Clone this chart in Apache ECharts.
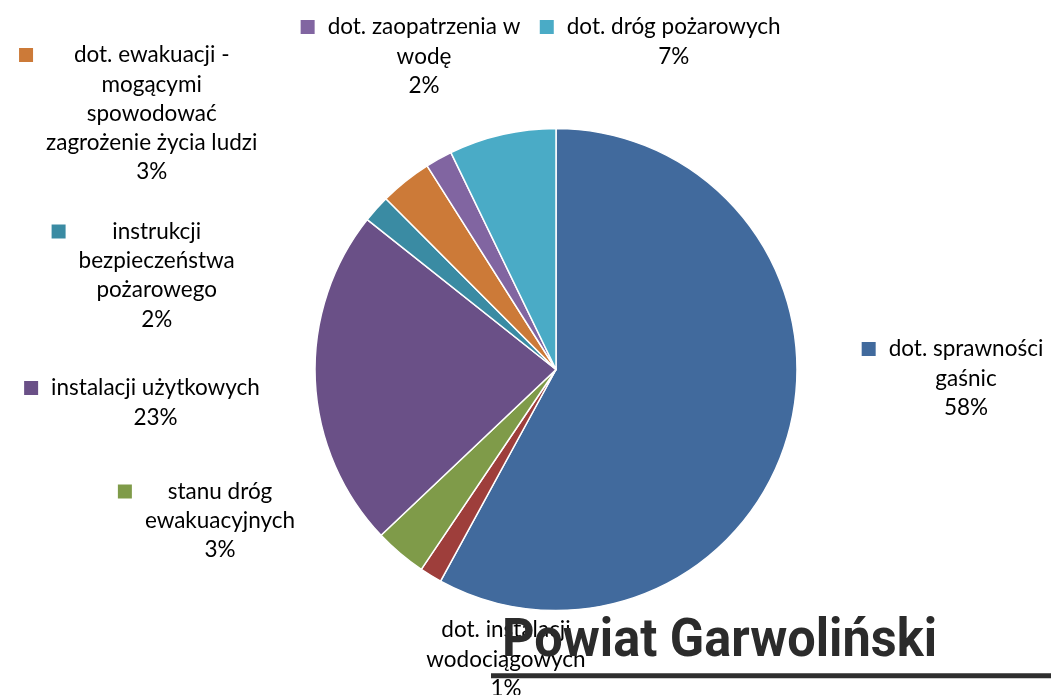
<!DOCTYPE html>
<html>
<head>
<meta charset="utf-8">
<script src="https://cdn.jsdelivr.net/npm/echarts@6/dist/echarts.min.js"></script>
<style>
  html, body { margin: 0; padding: 0; background: #fff; }
  #chart { width: 1051px; height: 695px; }
</style>
</head>
<body>
<div id="chart"></div>
<script>
// ---- data ----
const categories = [
  'dot. sprawności\ngaśnic',
  'dot. instalacji\nwodociągowych',
  'stanu dróg\newakuacyjnych',
  'instalacji użytkowych',
  'instrukcji\nbezpieczeństwa\npożarowego',
  'dot. ewakuacji -\nmogącymi\nspowodować\nzagrożenie życia ludzi',
  'dot. zaopatrzenia w\nwodę',
  'dot. dróg pożarowych'
];
const values = [57.95, 1.49, 3.49, 22.75, 1.85, 3.49, 1.8, 7.18];
const titleText = 'Powiat Garwoliński';

// ---- styles / layout ----
const colors = ['#416A9D', '#9E3E3B', '#7F9B49', '#6A5087', '#3A8BA3', '#CC7A38', '#8165A1', '#4AABC6'];
const FONT = 'Lato, "Noto Sans", sans-serif';
const FS = 22.5;
const LH = 29.3;
// text centre x, first line centre y, legend key shown
const labelPlace = [
  { x: 966, y: 349, key: true },
  { x: 506, y: 630, key: false },
  { x: 220, y: 491.5, key: true },
  { x: 155.5, y: 388, key: true },
  { x: 156.7, y: 231.5, key: true },
  { x: 151.7, y: 55, key: true },
  { x: 424, y: 27, key: true },
  { x: 673.7, y: 27, key: true }
];

const rich = {
  t: { fontFamily: FONT, fontSize: FS, color: '#000', lineHeight: LH, align: 'center' },
  gap: { width: 13, height: 14, align: 'left', lineHeight: LH },
  bl: { width: 27, height: 14, align: 'left', lineHeight: LH },
  br: { width: 27, height: 14, align: 'right', lineHeight: LH }
};
colors.forEach((c, i) => {
  rich['k' + i] = { width: 14, height: 14, backgroundColor: c, align: 'left', lineHeight: LH };
});

// fit title width
const TITLE_FS = 54;
const TITLE_FONT = 'bold ' + TITLE_FS + 'px Roboto';
const cv = document.createElement('canvas').getContext('2d');
cv.font = TITLE_FONT;
const titleScale = 435 / cv.measureText(titleText).width;

const chart = echarts.init(document.getElementById('chart'), null, { renderer: 'canvas' });
chart.setOption({
  animation: false,
  backgroundColor: '#fff',
  graphic: [
    {
      type: 'text', z: 100, zlevel: 0,
      x: 502, y: 669.5, scaleX: titleScale, originX: 0,
      style: {
        text: titleText, font: TITLE_FONT, fill: '#2B2B2B',
        textAlign: 'left', textVerticalAlign: 'bottom'
      }
    },
    {
      type: 'line', z: 100,
      shape: { x1: 491, y1: 675.8, x2: 1051, y2: 675.8 },
      style: { stroke: '#2E2E2E', lineWidth: 5 }
    }
  ],
  series: [{
    type: 'pie',
    center: [556, 369.5],
    radius: 241,
    startAngle: 90,
    clockwise: true,
    avoidLabelOverlap: false,
    itemStyle: { borderColor: '#fff', borderWidth: 1.5 },
    label: {
      show: true,
      position: 'outside',
      align: 'center',
      formatter: p => {
        const lines = p.name.split('\n').concat([Math.round(p.percent) + '%']);
        return lines.map((l, i) => {
          const left = (i === 0 && labelPlace[p.dataIndex].key) ? '{k' + p.dataIndex + '|}{gap|}' : '{bl|}';
          return left + '{t|' + l + '}{br|}';
        }).join('\n');
      },
      rich: rich
    },
    labelLine: { show: false },
    labelLayout: params => {
      const pl = labelPlace[params.dataIndex];
      return { x: pl.x, y: pl.y - LH / 2, align: 'center', verticalAlign: 'top', hideOverlap: false };
    },
    data: categories.map((c, i) => ({ name: c, value: values[i], itemStyle: { color: colors[i] } }))
  }]
});
</script>
</body>
</html>
